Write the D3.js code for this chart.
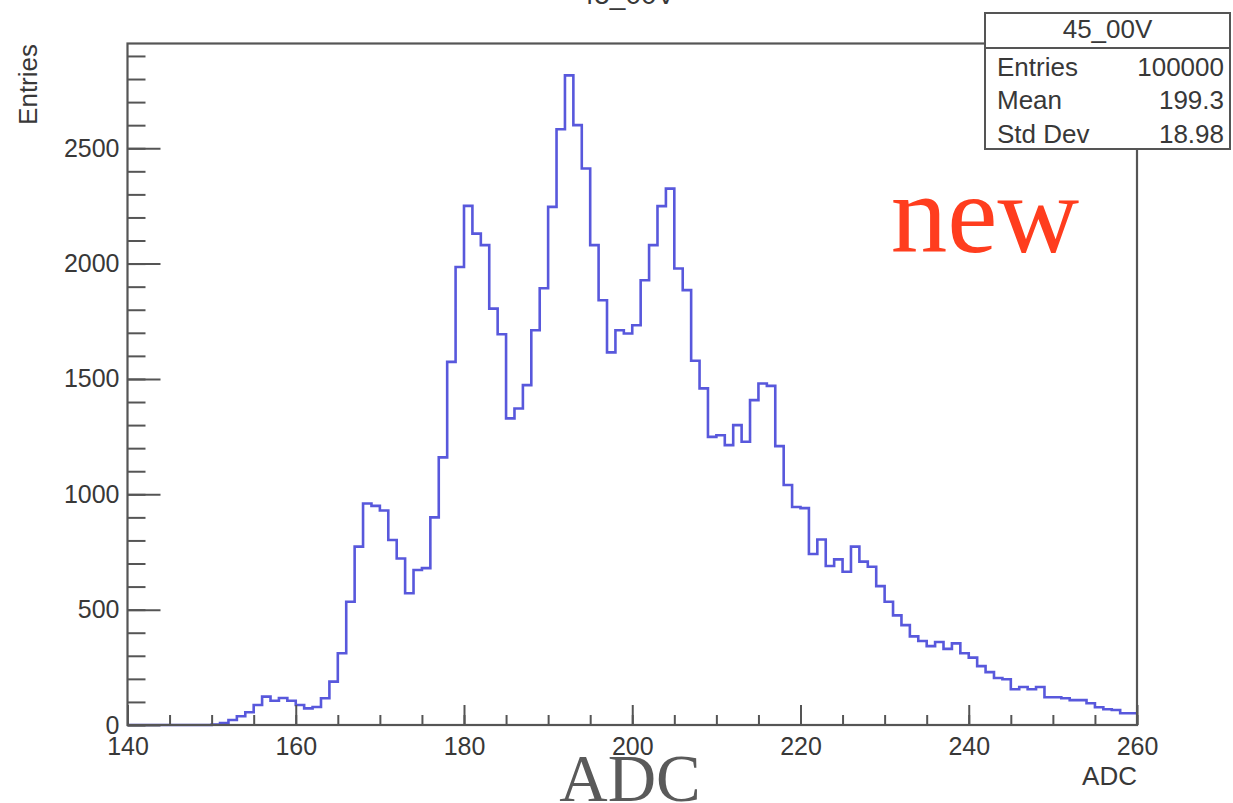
<!DOCTYPE html>
<html>
<head>
<meta charset="utf-8">
<script src="https://cdn.jsdelivr.net/npm/d3@7"></script>
<style>
  html, body { margin: 0; padding: 0; background: #fff; }
  svg { display: block; }
</style>
</head>
<body>
<svg id="chart" width="1233" height="803"></svg>
<script>
// ADC histogram, 1-count-wide bins from 140 to 260
const binLow = d3.range(140, 260);
const counts = [
  0, 0, 0, 0, 0, 0, 0, 0, 0, 0,                          // 140-149
  2, 8, 22, 38, 55, 87, 123, 105, 117, 105,              // 150-159
  87, 72, 78, 116, 188, 311, 534, 773, 960, 950,         // 160-169
  930, 802, 722, 571, 672, 680, 900, 1160, 1574, 1985,   // 170-179
  2250, 2130, 2080, 1805, 1694, 1329, 1372, 1473, 1711, 1893, // 180-189
  2246, 2582, 2816, 2600, 2412, 2080, 1841, 1615, 1711, 1697, // 190-199
  1733, 1928, 2080, 2249, 2325, 1979, 1885, 1579, 1459, 1249, // 200-209
  1256, 1213, 1300, 1228, 1408, 1480, 1470, 1209, 1040, 945,  // 210-219
  940, 741, 804, 689, 718, 664, 773, 708, 686, 602,      // 220-229
  534, 475, 433, 384, 364, 342, 360, 330, 354, 311,      // 230-239
  292, 255, 229, 204, 198, 155, 165, 155, 165, 120,      // 240-249
  120, 116, 108, 108, 94, 77, 68, 65, 51, 51             // 250-259
];

const histName = "45_00V";
const statLabels = ["Entries", "Mean", "Std Dev"];
const statValues = ["100000", "199.3", "18.98"];
const xMajorTicks = [140, 160, 180, 200, 220, 240, 260];
const xMinorTicks = d3.range(140, 261, 5);
const yMajorTicks = [0, 500, 1000, 1500, 2000, 2500];
const yMinorTicks = d3.range(0, 2901, 100);
const xTitle = "ADC";
const yTitle = "Entries";
const yMax = 2954;

const SANS = '"Liberation Sans", Arial, Helvetica, sans-serif';
const SERIF = '"Liberation Serif", "Times New Roman", serif';

const svg = d3.select("#chart");
const frame = { left: 127.5, right: 1137, top: 43.5, bottom: 725 };

const x = d3.scaleLinear().domain([140, 260]).range([frame.left, frame.right]);
const y = d3.scaleLinear().domain([0, yMax]).range([frame.bottom, frame.top]);

const axisColor = "#555";
const textColor = "#383838";

// Histogram outline as steps
const pts = [];
binLow.forEach((lo, i) => {
  pts.push([lo, counts[i]]);
  pts.push([lo + 1, counts[i]]);
});
const line = d3.line().x(d => x(d[0])).y(d => y(d[1]));
svg.append("path")
  .attr("d", line(pts))
  .attr("fill", "none")
  .attr("stroke", "#5858dc")
  .attr("stroke-width", 2.6)
  .attr("stroke-linejoin", "miter");

// Y axis: minor and major ticks pointing into the frame
const yMinor = svg.append("g").attr("transform", `translate(${frame.left},0)`)
  .call(d3.axisLeft(y).tickValues(yMinorTicks).tickSize(-18).tickFormat(""));
const yMajor = svg.append("g").attr("transform", `translate(${frame.left},0)`)
  .call(d3.axisLeft(y).tickValues(yMajorTicks).tickSize(-33).tickPadding(8).tickFormat(d3.format("d")));

// X axis
const xMinor = svg.append("g").attr("transform", `translate(0,${frame.bottom})`)
  .call(d3.axisBottom(x).tickValues(xMinorTicks).tickSize(-10).tickFormat(""));
const xMajor = svg.append("g").attr("transform", `translate(0,${frame.bottom})`)
  .call(d3.axisBottom(x).tickValues(xMajorTicks).tickSize(-20).tickPadding(12).tickFormat(d3.format("d")));

[yMinor, yMajor, xMinor, xMajor].forEach(g => {
  g.select(".domain").remove();
  g.selectAll(".tick line").attr("stroke", axisColor).attr("stroke-width", 2);
  g.selectAll(".tick text")
    .attr("fill", textColor)
    .attr("font-size", 25)
    .style("font-family", SANS);
});

// Frame
svg.append("rect")
  .attr("x", frame.left).attr("y", frame.top)
  .attr("width", frame.right - frame.left).attr("height", frame.bottom - frame.top)
  .attr("fill", "none")
  .attr("stroke", axisColor)
  .attr("stroke-width", 2.2);

// Axis titles
svg.append("text")
  .attr("x", frame.right).attr("y", 785)
  .attr("text-anchor", "end")
  .attr("font-size", 26)
  .attr("fill", textColor)
  .style("font-family", SANS)
  .text(xTitle);

svg.append("text")
  .attr("transform", "translate(37,44) rotate(-90)")
  .attr("text-anchor", "end")
  .attr("font-size", 26)
  .attr("fill", textColor)
  .style("font-family", SANS)
  .text(yTitle);

// Histogram title (sits at the very top edge)
svg.append("text")
  .attr("x", 627).attr("y", 4)
  .attr("text-anchor", "middle")
  .attr("font-size", 28)
  .attr("fill", textColor)
  .style("font-family", SANS)
  .text(histName);

// Statistics box
const box = { x0: 985, y0: 13, x1: 1230, y1: 149, sep: 48 };
const stats = svg.append("g");
stats.append("rect")
  .attr("x", box.x0).attr("y", box.y0)
  .attr("width", box.x1 - box.x0).attr("height", box.y1 - box.y0)
  .attr("fill", "#fff")
  .attr("stroke", axisColor)
  .attr("stroke-width", 2);
stats.append("line")
  .attr("x1", box.x0).attr("x2", box.x1)
  .attr("y1", box.sep).attr("y2", box.sep)
  .attr("stroke", axisColor)
  .attr("stroke-width", 2);
stats.append("text")
  .attr("x", (box.x0 + box.x1) / 2).attr("y", 38)
  .attr("text-anchor", "middle")
  .attr("font-size", 26)
  .attr("fill", textColor)
  .style("font-family", SANS)
  .text(histName);
const rowY = [76, 109, 143];
statLabels.forEach((lab, i) => {
  stats.append("text")
    .attr("x", 997).attr("y", rowY[i])
    .attr("font-size", 26)
    .attr("fill", textColor)
    .style("font-family", SANS)
    .text(lab);
  stats.append("text")
    .attr("x", 1224).attr("y", rowY[i])
    .attr("text-anchor", "end")
    .attr("font-size", 26)
    .attr("fill", textColor)
    .style("font-family", SANS)
    .text(statValues[i]);
});

// Annotations
svg.append("text")
  .attr("x", 985).attr("y", 252)
  .attr("text-anchor", "middle")
  .attr("font-size", 113)
  .attr("fill", "#ff3d1e")
  .style("font-family", SERIF)
  .text("new");

svg.append("text")
  .attr("x", 630).attr("y", 801)
  .attr("text-anchor", "middle")
  .attr("font-size", 67)
  .attr("fill", "#5a5a5a")
  .style("font-family", SERIF)
  .text(xTitle);
</script>
</body>
</html>
